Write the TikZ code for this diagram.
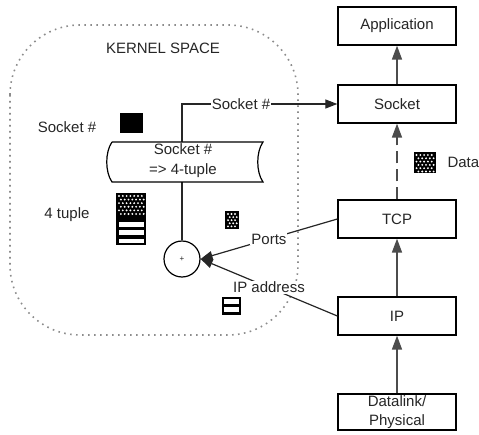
\documentclass[tikz,border=0pt]{standalone}
\usepackage{fontspec}
\setmainfont{Liberation Sans}
\usetikzlibrary{arrows.meta}
\begin{document}
\begin{tikzpicture}[x=1pt,y=-1pt, font=\fontsize{15}{17}\selectfont, text=black!85,
 box/.style={draw=black, line width=1.3pt, minimum width=118pt, minimum height=38pt, inner sep=0pt, fill=white},
 arr/.style={draw=black!70, line width=1.6pt, -{Triangle[length=14pt,width=10pt]}},
 conn/.style={draw=black!85, line width=1.2pt, -{Triangle[length=12pt,width=9pt]}},
 onl/.style={fill=white, inner sep=1pt},
 kernelline/.style={draw=black!45, line width=1.6pt, dash pattern=on 1.6pt off 4.4pt, rounded corners=70pt},
 ]
\useasboundingbox (0,0) rectangle (479,435);
% kernel space region
\draw[kernelline] (10,25) rectangle (298,335);
\node (kernel) at (163,48) {KERNEL SPACE};

% protocol stack
\node[box] (app) at (397,26) {Application};
\node[box] (sock) at (397,104) {Socket};
\node[box] (tcp) at (397,219) {TCP};
\node[box] (ip) at (397,316) {IP};
\node[box, minimum height=36pt, align=center, font=\fontsize{15}{19}\selectfont] (dl) at (397,412) {Datalink/\\Physical};

\draw[arr] (sock) -- (app);
\draw[arr, dash pattern=on 12pt off 6pt] (tcp) -- (sock);
\draw[arr] (ip) -- (tcp);
\draw[arr] (dl) -- (ip);

% combiner
\node[circle, draw=black, line width=1.2pt, minimum size=36pt, inner sep=0pt] (circ) at (182,259) {\fontsize{8}{8}\selectfont +};

\draw[conn] (circ.north) |- node[onl, pos=0.69] {Socket \#} (sock.west);
\draw[conn] (tcp.west) -- node[onl, pos=0.5] {Ports} (circ.east);
\draw[conn] (ip.west) -- node[onl, pos=0.5] {IP address} (circ.east);

% mapping table
\draw[fill=white, line width=1.2pt] (112,142) -- (263,142) .. controls (256,152) and (256,172) .. (263,182) -- (112,182) .. controls (105,172) and (105,152) .. (112,142);
\node[align=center, font=\fontsize{15}{20}\selectfont] (map) at (183,161) {Socket \#\\=> 4-tuple};

% labels
\node (lsock) at (67,127) {Socket \#};
\node (ltuple) at (67,215) {4 tuple};
\node[anchor=west] (ldata) at (444,162) {Data};

% socket # symbol
\fill[black] (120,113) rectangle (143,133);

% data symbol
\fill[black] (414,152) rectangle (436,173);
\foreach \r in {0,...,5} \foreach \c in {0,...,4}
  \fill[white] ({416.5+3.8*\c+mod(\r,2)*1.9}, {155+3.3*\r}) circle (1.05);

% 4 tuple symbol
\fill[black] (116,193) rectangle (146,218);
\foreach \r in {0,...,5} \foreach \c in {0,...,6}
  \fill[white] ({119+3.8*\c+mod(\r,2)*1.9}, {196+3.6*\r}) circle (1.05);
\fill[black] (116,218) rectangle (146,245);
\fill[white] (118.5,222) rectangle (143.5,227);
\fill[white] (118.5,230.5) rectangle (143.5,235.5);
\fill[white] (118.5,239) rectangle (143.5,243);

% ports symbol
\fill[black] (225,211) rectangle (239,229);
\foreach \r in {0,...,4} \foreach \c in {0,...,2}
  \fill[white] ({228+3.5*\c+mod(\r,2)*1.7}, {214+3.1*\r}) circle (1.05);

% ip address symbol
\fill[black] (222,297) rectangle (241,315);
\fill[white] (224,299.5) rectangle (239,304.5);
\fill[white] (224,307.5) rectangle (239,312.5);
\end{tikzpicture}
\end{document}
